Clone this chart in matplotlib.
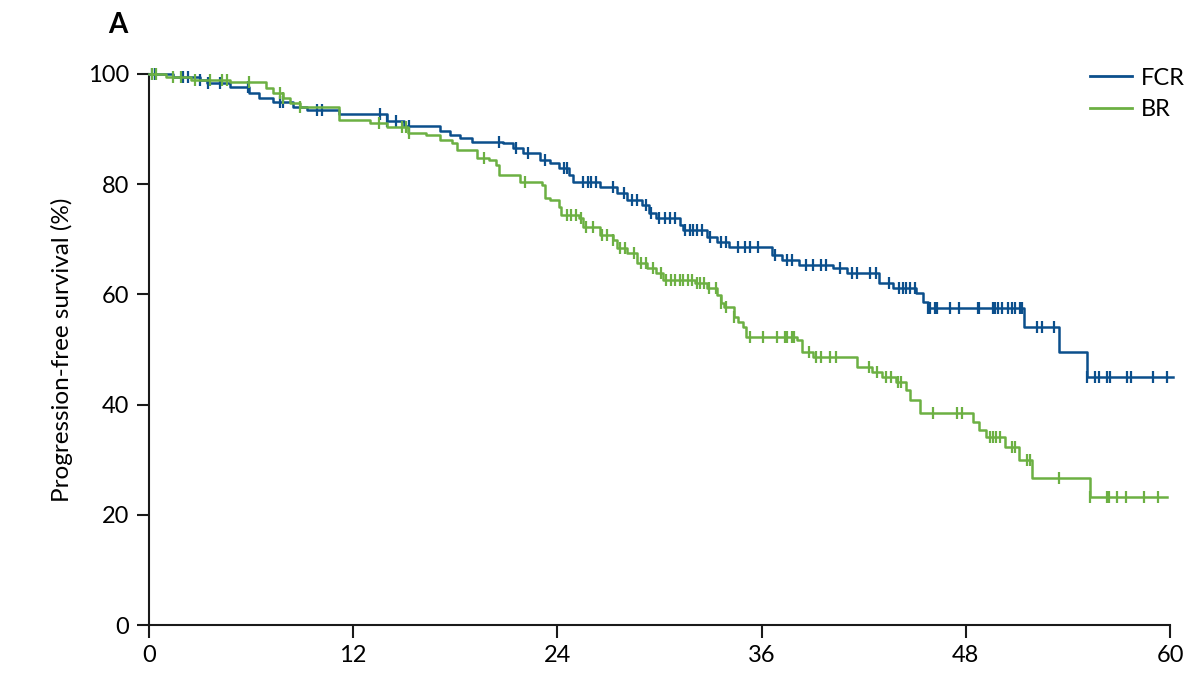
import numpy as np
import matplotlib.pyplot as plt

plt.rcParams['font.family'] = ['Lato', 'DejaVu Sans']

# FCR: Kaplan-Meier step points (months, %)
fcr_t = [0, 1.4, 3.0, 3.4, 4.8, 5.9, 6.5, 7.3, 8.5, 9.3, 11.2, 14.0, 15.0, 17.1, 17.7,
         18.3, 19.0, 20.8, 21.4, 22.0, 23.0, 23.6, 24.1, 24.7, 24.9, 26.5, 27.5, 28.1,
         29.0, 29.4, 29.8, 31.2, 31.4, 32.8, 33.4, 34.1, 36.6, 37.2, 38.2, 40.2, 41.0,
         42.9, 43.7, 45.1, 45.5, 45.8, 51.4, 53.5, 55.1]
fcr_s = [100, 99.5, 98.9, 98.4, 97.6, 96.5, 95.6, 94.9, 94.0, 93.5, 92.8, 91.5, 90.5, 89.7,
         89.0, 88.4, 87.7, 87.5, 86.6, 85.7, 84.4, 83.8, 82.9, 81.7, 80.4, 79.5, 78.4, 77.1,
         76.2, 74.8, 73.9, 72.6, 71.7, 70.4, 69.5, 68.6, 67.2, 66.2, 65.3, 64.8, 63.9,
         62.1, 61.2, 60.3, 58.6, 57.5, 54.1, 49.5, 45.0]
fcr_end = 60.2
fcr_cens = [0.2, 0.35, 2.0, 2.3, 3.0, 3.5, 4.2, 5.8, 7.7, 7.9, 9.9, 10.2, 13.6, 14.0, 14.5,
            15.3, 20.6, 21.6, 22.3, 23.3, 24.4, 24.6, 25.5, 25.8, 26.0, 26.3, 27.3, 27.9,
            28.4, 28.7, 29.2, 29.5, 30.0, 30.3, 30.6, 30.9, 31.5, 31.8, 32.0, 32.2, 32.5,
            33.0, 33.6, 33.9, 34.6, 35.0, 35.3, 35.8, 36.8, 37.5, 37.8, 38.6, 39.0, 39.5,
            39.8, 40.6, 41.3, 41.6, 42.4, 42.7, 43.5, 44.1, 44.3, 44.5, 44.7, 45.0, 45.8,
            45.9, 46.2, 46.3, 47.1, 47.6, 48.7, 48.8, 49.6, 49.7, 49.9, 50.1, 50.5, 50.7,
            50.9, 51.2, 51.3, 52.2, 52.5, 53.2, 55.1, 55.6, 55.8, 56.3, 56.5, 57.5, 57.7,
            59.0, 59.8]

# BR
br_t = [0, 1.0, 2.5, 4.8, 6.9, 7.3, 7.9, 8.3, 8.9, 11.2, 13.0, 14.0, 15.2, 16.3, 17.1,
        17.8, 18.1, 19.3, 20.0, 20.4, 20.6, 21.8, 23.1, 23.3, 23.6, 24.1, 24.2, 25.3,
        25.5, 26.5, 27.3, 27.5, 28.1, 28.7, 29.3, 29.8, 30.2, 32.1, 32.8, 33.4, 33.6,
        33.8, 34.4, 34.6, 34.9, 35.1, 38.1, 38.4, 39.0, 41.6, 42.5, 43.1, 43.9, 44.5,
        44.7, 45.3, 48.4, 48.8, 49.2, 50.3, 51.1, 51.9, 55.3]
br_s = [100, 99.5, 98.9, 98.5, 97.5, 96.5, 95.6, 94.7, 94.0, 91.7, 91.1, 90.4, 89.3, 88.9,
        88.0, 87.5, 86.2, 84.8, 84.4, 83.5, 81.7, 80.4, 79.9, 77.5, 77.1, 75.9, 74.4, 73.9,
        72.3, 70.8, 69.9, 68.4, 67.5, 65.7, 64.8, 63.9, 62.6, 62.0, 61.2, 59.8, 58.5,
        57.7, 55.9, 55.0, 54.1, 52.3, 51.7, 49.5, 48.6, 46.8, 45.9, 45.0, 44.1, 42.6,
        40.8, 38.5, 36.8, 35.4, 34.1, 32.3, 29.9, 26.7, 23.2]
br_end = 59.8
br_cens = [0.2, 0.4, 1.4, 1.9, 2.7, 3.6, 4.3, 4.6, 5.9, 7.7, 7.9, 8.9, 13.5, 14.9, 15.1,
           15.3, 19.7, 22.1, 24.6, 24.8, 25.1, 25.4, 25.7, 26.1, 26.6, 26.9, 27.3, 27.7,
           28.0, 28.5, 28.9, 29.2, 29.6, 30.1, 30.4, 30.7, 30.9, 31.2, 31.4, 31.7, 31.9,
           32.2, 32.4, 32.6, 32.9, 33.3, 33.6, 33.9, 34.4, 35.3, 36.1, 36.9, 37.4, 37.5,
           37.8, 37.9, 38.8, 39.2, 39.5, 40.0, 40.4, 42.3, 42.8, 43.3, 43.6, 44.0, 44.2,
           46.1, 47.5, 47.8, 49.4, 49.6, 49.8, 50.0, 50.7, 50.9, 51.6, 51.8, 53.5, 55.3,
           56.3, 56.4, 56.9, 57.4, 58.5, 59.3]

blue = '#0b4f8c'
green = '#6cb043'


def km_curve(ax, t, s, end, cens, color, label):
    tt = list(t) + [end]
    ss = list(s) + [s[-1]]
    ax.step(tt, ss, where='post', color=color, lw=1.8, label=label, clip_on=False, zorder=3)
    idx = np.searchsorted(t, cens, side='right') - 1
    cy = np.array(s)[idx]
    ax.plot(cens, cy, ls='none', marker='|', ms=8, mew=1.6, color=color,
            clip_on=False, zorder=3)


fig = plt.figure(figsize=(12, 6.78), dpi=100)
ax = fig.add_axes([0.124, 0.078, 0.851, 0.813])

km_curve(ax, fcr_t, fcr_s, fcr_end, fcr_cens, blue, 'FCR')
km_curve(ax, br_t, br_s, br_end, br_cens, green, 'BR')

ax.set_xlim(0, 60)
ax.set_ylim(0, 100)
ax.set_xticks([0, 12, 24, 36, 48, 60])
ax.set_yticks([0, 20, 40, 60, 80, 100])
ax.spines['top'].set_visible(False)
ax.spines['right'].set_visible(False)
for sp in ['left', 'bottom']:
    ax.spines[sp].set_linewidth(1.5)
    ax.spines[sp].set_color('#1a1a1a')
ax.tick_params(axis='both', labelsize=17, length=9, width=1.5, color='#1a1a1a', pad=5)
ax.set_ylabel('Progression-free survival (%)', fontsize=17.5, labelpad=11)

leg = ax.legend(loc='upper right', bbox_to_anchor=(1.035, 1.05), frameon=False, fontsize=17,
                handlelength=1.8, labelspacing=0.45, handletextpad=0.35)
for line in leg.get_lines():
    line.set_linewidth(2)

fig.text(0.09, 0.963, 'A', fontsize=20, fontweight='bold', va='center')

fig.savefig('out.png', dpi=100)
